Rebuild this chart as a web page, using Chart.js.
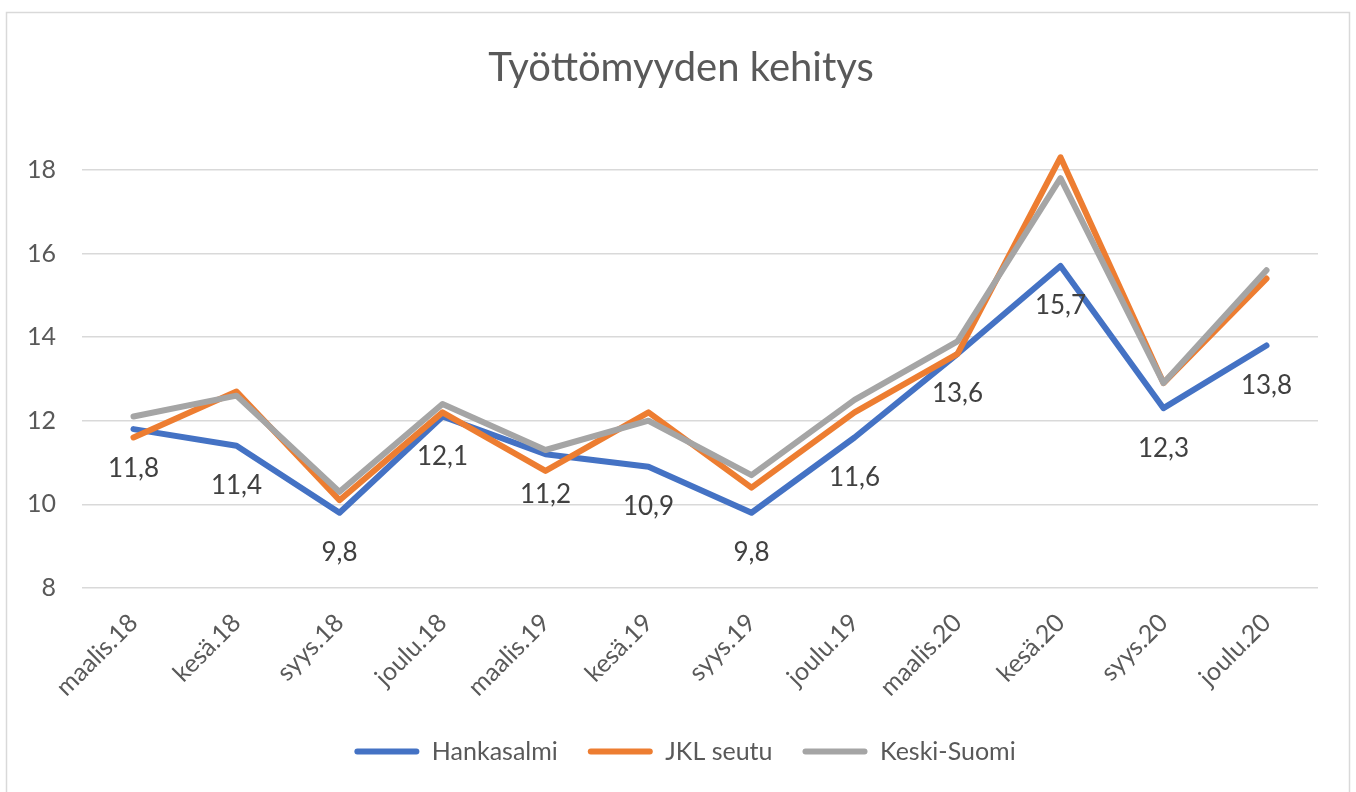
<!DOCTYPE html>
<html>
<head>
<meta charset="utf-8">
<script src="https://cdn.jsdelivr.net/npm/chart.js@4.4.1/dist/chart.umd.min.js"></script>
<style>
html,body{margin:0;padding:0;background:#fff;}
#wrap{position:absolute;left:0;top:0;width:1356px;height:792px;}
</style>
</head>
<body>
<div id="wrap"><canvas id="c" width="1356" height="792"></canvas></div>
<script>
const categories = ["maalis.18","kesä.18","syys.18","joulu.18","maalis.19","kesä.19","syys.19","joulu.19","maalis.20","kesä.20","syys.20","joulu.20"];
const hankasalmi = [11.8, 11.4, 9.8, 12.1, 11.2, 10.9, 9.8, 11.6, 13.6, 15.7, 12.3, 13.8];
const jklSeutu   = [11.6, 12.7, 10.1, 12.2, 10.8, 12.2, 10.4, 12.2, 13.6, 18.3, 12.9, 15.4];
const keskiSuomi = [12.1, 12.6, 10.3, 12.4, 11.3, 12.0, 10.7, 12.5, 13.9, 17.8, 12.9, 15.6];
const yTicks = [8, 10, 12, 14, 16, 18];
const seriesNames = ["Hankasalmi", "JKL seutu", "Keski-Suomi"];
const titleText = "Työttömyyden kehitys";

const FONT = "Lato, 'Open Sans', sans-serif";
const colors = ["#4472C4", "#ED7D31", "#A5A5A5"];

const borderPlugin = {
  id: 'frame',
  beforeDraw(chart) {
    const ctx = chart.ctx;
    ctx.save();
    ctx.fillStyle = '#fff';
    ctx.fillRect(0, 0, chart.width, chart.height);
    ctx.strokeStyle = '#d9d9d9';
    ctx.lineWidth = 1.5;
    ctx.strokeRect(6.5, 12.5, 1343, 800);
    ctx.restore();
  },
  afterLayout(chart) {
    if (chart.legend) { chart.legend.left += 16; chart.legend.right += 16; }
    if (chart.titleBlock) { chart.titleBlock.left += 12; chart.titleBlock.right += 12; }
  }
};

const labelPlugin = {
  id: 'valueLabels',
  afterDatasetsDraw(chart) {
    const ctx = chart.ctx;
    const meta = chart.getDatasetMeta(0);
    const data = chart.data.datasets[0].data;
    ctx.save();
    ctx.font = "26px " + FONT;
    ctx.fillStyle = "#404040";
    ctx.textAlign = "center";
    ctx.textBaseline = "middle";
    meta.data.forEach((pt, i) => {
      ctx.fillText(String(data[i]).replace('.', ','), pt.x, pt.y + 40);
    });
    ctx.restore();
  }
};

const datasets = [hankasalmi, jklSeutu, keskiSuomi].map((d, i) => ({
  label: seriesNames[i],
  data: d,
  borderColor: colors[i],
  backgroundColor: colors[i],
  borderWidth: 6,
  pointRadius: 0,
  tension: 0,
  fill: false,
  clip: false,
  borderJoinStyle: 'round',
  borderCapStyle: 'round',
  order: 3 - i
}));

new Chart(document.getElementById('c'), {
  type: 'line',
  data: { labels: categories, datasets },
  plugins: [borderPlugin, labelPlugin],
  options: {
    responsive: false,
    animation: false,
    events: [],
    layout: { padding: { left: 20, right: 38, top: 0, bottom: 18 } },
    plugins: {
      tooltip: { enabled: false },
      title: {
        display: true,
        text: titleText,
        color: '#595959',
        font: { family: FONT, size: 40, weight: 'normal' },
        padding: { top: 44, bottom: 36 }
      },
      legend: {
        position: 'bottom',
        labels: {
          color: '#595959',
          font: { family: FONT, size: 25 },
          boxWidth: 65,
          boxHeight: 6,
          padding: 30,
          sort: (a, b) => a.datasetIndex - b.datasetIndex,
          generateLabels(chart) {
            const items = Chart.defaults.plugins.legend.labels.generateLabels(chart);
            items.forEach(it => { it.lineWidth = 0; it.borderRadius = 3; });
            return items;
          },
          useBorderRadius: true,
          borderRadius: 3
        }
      }
    },
    scales: {
      x: {
        offset: true,
        grid: { display: false, drawTicks: false },
        border: { display: false },
        ticks: {
          color: '#595959',
          font: { family: FONT, size: 25 },
          minRotation: 45,
          maxRotation: 45,
          padding: 20
        },
        afterFit(scale) { scale.height = 121; }
      },
      y: {
        min: 8,
        max: 19,
        afterBuildTicks(scale) { scale.ticks = yTicks.map(v => ({ value: v })); },
        grid: { color: '#d9d9d9', lineWidth: 1.5, drawTicks: false },
        border: { display: false },
        ticks: {
          color: '#595959',
          font: { family: FONT, size: 25 },
          padding: 26
        },
        afterFit(scale) { scale.width = 62; }
      }
    }
  }
});
</script>
</body>
</html>
